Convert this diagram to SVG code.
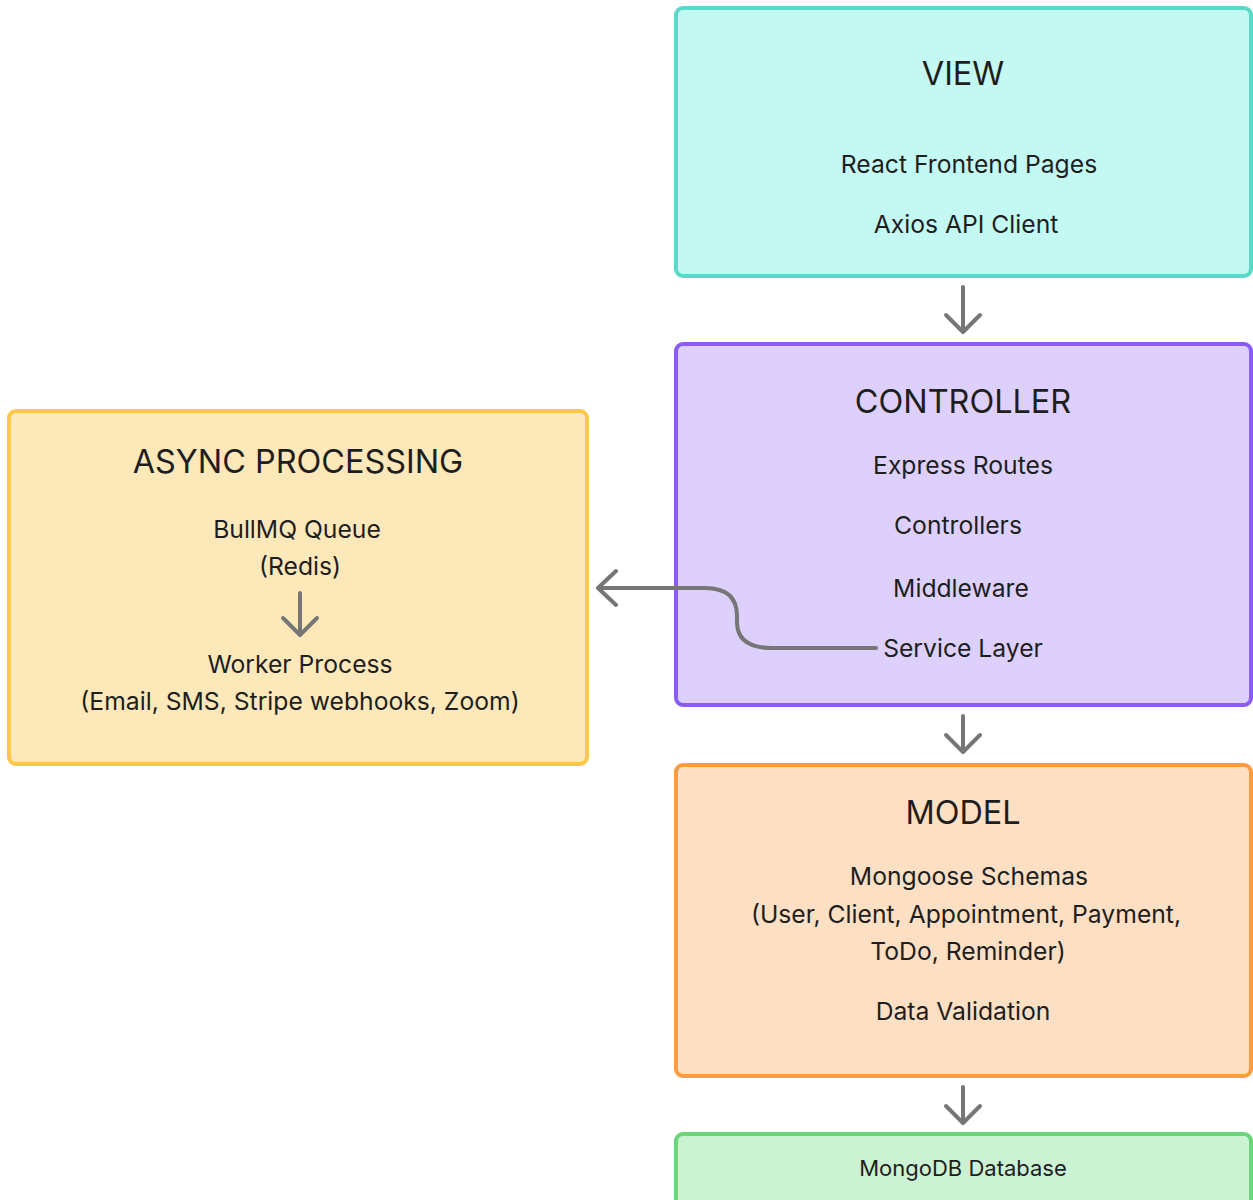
<svg xmlns="http://www.w3.org/2000/svg" width="1253" height="1200" viewBox="0 0 1253 1200">
<defs>
<style>
.box{stroke-width:4}
.t{font-family:Inter,"Liberation Sans",sans-serif;fill:#1e1e1e;text-anchor:middle}
.h{font-size:32.4px}
.b{font-size:24.7px}
.s{font-size:22px}
.c{fill:none;stroke:#767676;stroke-width:4;stroke-linecap:round;stroke-linejoin:round}
</style>
</defs>
<rect width="1253" height="1200" fill="#ffffff"/>
<g id="view">
<rect class="box" x="676" y="8" width="575" height="268" rx="7" fill="#c4f8f3" stroke="#5ad8c8"/>
<text class="t h" x="963" y="85">VIEW</text>
<text class="t b" x="969" y="173">React Frontend Pages</text>
<text class="t b" x="966" y="233">Axios API Client</text>
</g>
<g id="controller">
<rect class="box" x="676" y="344" width="575" height="361" rx="7" fill="#ddd0fc" stroke="#8a5cf5"/>
<text class="t h" x="963" y="413">CONTROLLER</text>
<text class="t b" x="963" y="474">Express Routes</text>
<text class="t b" x="958" y="534">Controllers</text>
<text class="t b" x="961" y="597">Middleware</text>
<text class="t b" x="963" y="657">Service Layer</text>
</g>
<g id="async">
<rect class="box" x="9" y="411" width="578" height="353" rx="7" fill="#fde8ba" stroke="#fdc849"/>
<text class="t h" x="298" y="473">ASYNC PROCESSING</text>
<text class="t b" x="297" y="538">BullMQ Queue</text>
<text class="t b" x="300" y="575">(Redis)</text>
<text class="t b" x="300" y="673">Worker Process</text>
<text class="t b" x="300" y="710">(Email, SMS, Stripe webhooks, Zoom)</text>
</g>
<g id="model">
<rect class="box" x="676" y="765" width="575" height="311" rx="7" fill="#fddfc4" stroke="#fb9c43"/>
<text class="t h" x="963" y="824">MODEL</text>
<text class="t b" x="969" y="885">Mongoose Schemas</text>
<text class="t b" x="966" y="923">(User, Client, Appointment, Payment,</text>
<text class="t b" x="968" y="960">ToDo, Reminder)</text>
<text class="t b" x="963" y="1020">Data Validation</text>
</g>
<g id="mongodb">
<rect class="box" x="676" y="1134" width="575" height="80" rx="7" fill="#ccf2d4" stroke="#6bd57c"/>
<text class="t s" x="963" y="1176">MongoDB Database</text>
</g>
<g id="connectors">
<path class="c" d="M963 287 L963 331 M946 315 L963 332 L980 315"/>
<path class="c" d="M963 716 L963 751 M946 735 L963 752 L980 735"/>
<path class="c" d="M963 1087 L963 1122 M946 1106 L963 1123 L980 1106"/>
<path class="c" d="M300 593 L300 634 M283 618 L300 635 L317 618"/>
<path class="c" d="M876 648 L772 648 Q737 648 737 622 L737 616 Q737 588 705 588 L598 588 M616 571 L598 588 L616 605"/>
</g>
</svg>
